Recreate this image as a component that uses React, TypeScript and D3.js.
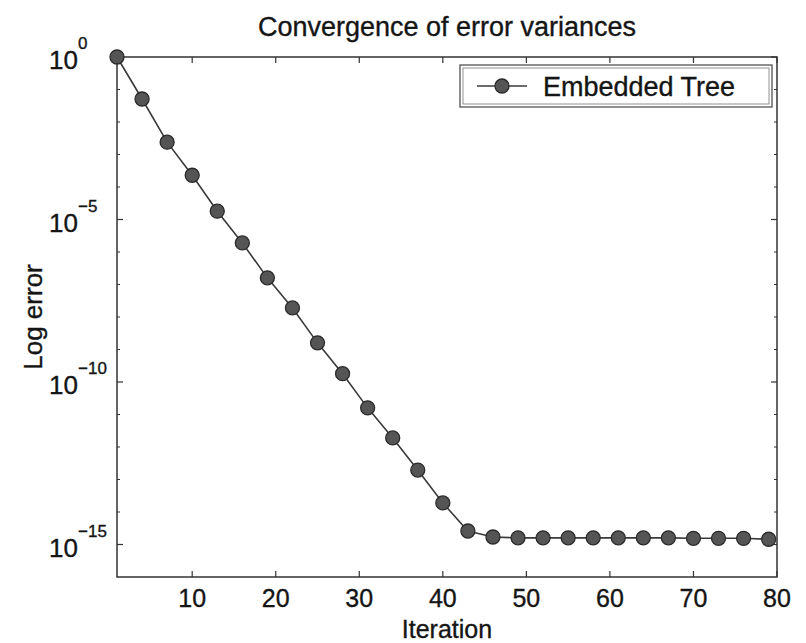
import * as d3 from 'd3'

// iteration numbers of the plotted samples
const iterations = [1, 4, 7, 10, 13, 16, 19, 22, 25, 28, 31, 34, 37, 40, 43, 46, 49, 52, 55, 58, 61, 64, 67, 70, 73, 76, 79]
// error values
const errors = [
    1, 5.1e-2, 2.4e-3, 2.3e-4, 1.8e-5, 1.9e-6, 1.6e-7, 1.9e-8, 1.6e-9, 1.8e-10, 1.6e-11, 1.9e-12, 1.95e-13, 1.9e-14,
    2.6e-15, 1.7e-15, 1.6e-15, 1.6e-15, 1.6e-15, 1.6e-15, 1.6e-15, 1.6e-15, 1.6e-15, 1.55e-15, 1.55e-15, 1.55e-15, 1.45e-15,
]
const xTicks = [10, 20, 30, 40, 50, 60, 70, 80]
const yLabelExps = [0, -5, -10, -15]
const yMinorExps = [-1, -2, -3, -4, -6, -7, -8, -9, -11, -12, -13, -14]

const seriesName = 'Embedded Tree'
const title = 'Convergence of error variances'
const xTitle = 'Iteration'
const yTitle = 'Log error'

const W = 806
const H = 643
const left = 117
const right = 777
const top = 57
const bottom = 577
const font = '"Liberation Sans", Arial, Helvetica, sans-serif'
const axisColor = '#333'
const ink = '#151515'

function App() {
    const x = d3.scaleLinear().domain([1, 80]).range([left, right])
    const y = d3.scaleLog().domain([1e-16, 1]).range([bottom, top])

    const pts = iterations.map((it, i) => ({ it, e: errors[i] }))
    const line = d3
        .line<{ it: number; e: number }>()
        .x((d) => x(d.it))
        .y((d) => y(d.e))

    // scanned text is a bit heavier than plain regular
    const txt = { fontFamily: font, fill: ink, stroke: ink, strokeWidth: 0.35 }

    return (
        <svg width={W} height={H} style={{ position: 'absolute', left: 0, top: 0, background: '#fff' }}>
            {/* title */}
            <text x={(left + right) / 2} y={36} textAnchor="middle" fontSize={27} {...txt}>
                {title}
            </text>

            {/* axes box */}
            <rect x={left} y={top} width={right - left} height={bottom - top} fill="none" stroke={axisColor} strokeWidth={1.5} />

            {/* x ticks */}
            {xTicks.map((t) => (
                <g key={'x' + t}>
                    <line x1={x(t)} x2={x(t)} y1={bottom} y2={bottom - 6} stroke={axisColor} strokeWidth={1.2} />
                    <line x1={x(t)} x2={x(t)} y1={top} y2={top + 6} stroke={axisColor} strokeWidth={1.2} />
                    <text x={x(t)} y={607} textAnchor="middle" fontSize={25} {...txt}>
                        {t}
                    </text>
                </g>
            ))}

            {/* y minor ticks */}
            {yMinorExps.map((e) => (
                <g key={'ym' + e}>
                    <line x1={left} x2={left + 3} y1={y(10 ** e)} y2={y(10 ** e)} stroke={axisColor} strokeWidth={1} />
                    <line x1={right} x2={right - 3} y1={y(10 ** e)} y2={y(10 ** e)} stroke={axisColor} strokeWidth={1} />
                </g>
            ))}

            {/* y major ticks and labels */}
            {yLabelExps.map((e) => (
                <g key={'y' + e}>
                    <line x1={left} x2={left + 6} y1={y(10 ** e)} y2={y(10 ** e)} stroke={axisColor} strokeWidth={1.2} />
                    <line x1={right} x2={right - 6} y1={y(10 ** e)} y2={y(10 ** e)} stroke={axisColor} strokeWidth={1.2} />
                    <text x={left - 39} y={y(10 ** e) + 12} textAnchor="end" fontSize={26} {...txt}>
                        10
                    </text>
                    <text x={left - 39} y={y(10 ** e) - 8} textAnchor="start" fontSize={17} {...txt}>
                        {e === 0 ? '0' : '\u2212' + Math.abs(e)}
                    </text>
                </g>
            ))}

            {/* axis titles */}
            <text x={(left + right) / 2} y={638} textAnchor="middle" fontSize={25} {...txt}>
                {xTitle}
            </text>
            <text transform={`translate(42, ${(top + bottom) / 2}) rotate(-90)`} textAnchor="middle" fontSize={26} {...txt}>
                {yTitle}
            </text>

            {/* series */}
            <path d={line(pts) || ''} fill="none" stroke="#3a3a3a" strokeWidth={1.6} />
            {pts.map((d) => (
                <circle key={d.it} cx={x(d.it)} cy={y(d.e)} r={7} fill="#555" stroke="#2a2a2a" strokeWidth={1.3} />
            ))}

            {/* legend */}
            <g>
                <rect x={460} y={65} width={312} height={42} fill="#fff" stroke="#444" strokeWidth={1.2} />
                <rect x={463} y={68} width={306} height={36} fill="none" stroke="#777" strokeWidth={0.8} />
                <line x1={477} x2={527} y1={86} y2={86} stroke="#3a3a3a" strokeWidth={1.6} />
                <circle cx={502} cy={86} r={7} fill="#555" stroke="#2a2a2a" strokeWidth={1.3} />
                <text x={543} y={96} fontSize={27} {...txt}>
                    {seriesName}
                </text>
            </g>
        </svg>
    )
}

export default App
